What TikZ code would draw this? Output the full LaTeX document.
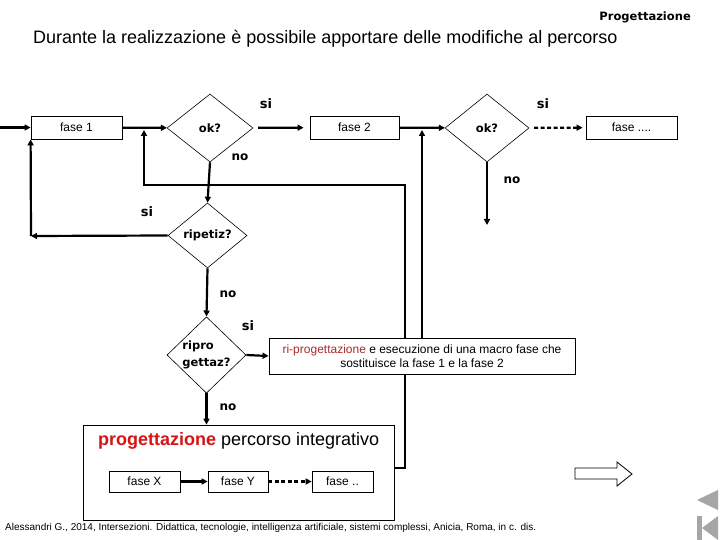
\documentclass[tikz,border=0pt]{standalone}
\usepackage{fontspec}
\setmainfont{Liberation Sans}
\newfontfamily\lblfont{DejaVu Sans}
\usetikzlibrary{shapes.geometric,arrows.meta}
\definecolor{redA}{RGB}{214,20,20}
\definecolor{redB}{RGB}{165,45,45}
\definecolor{navgray}{RGB}{166,166,166}
\begin{document}
\begin{tikzpicture}[x=1pt,y=-1pt,
  box/.style={draw,fill=white,line width=0.8pt,inner sep=0pt,font=\fontsize{12}{14}\selectfont},
  dia/.style={draw,diamond,line width=0.6pt,inner sep=0pt,font=\lblfont\bfseries\fontsize{11.5}{13}\selectfont},
  arr/.style={line width=2.2pt,-{Triangle[length=6pt,width=6pt]}},
  darr/.style={arr,dash pattern=on 4pt off 2.5pt},
  silbl/.style={font=\lblfont\bfseries\fontsize{13}{15}\selectfont},
  nolbl/.style={font=\lblfont\bfseries\fontsize{12}{14}\selectfont}]
\useasboundingbox[fill=white] (0,0) rectangle (720,540);

% headings
\node[anchor=east,inner sep=0pt,font=\lblfont\bfseries\fontsize{11.5}{13}\selectfont] (hdr) at (691,17) {Progettazione};
\node[anchor=west,inner sep=0pt,font=\fontsize{18}{21}\selectfont] (title) at (33,39) {Durante la realizzazione è possibile apportare delle modifiche al percorso};

% top row
\coordinate (cin) at (0,127.5);
\node[box,minimum width=91pt,minimum height=23pt] (fase1) at (76.5,127.5) {fase 1};
\node[dia,minimum width=86pt,minimum height=68pt] (ok1) at (210,128) {ok?};
\node[box,minimum width=89pt,minimum height=23pt] (fase2) at (354.5,127.5) {fase 2};
\node[dia,minimum width=84pt,minimum height=68pt] (ok2) at (487,128) {ok?};
\node[box,minimum width=91pt,minimum height=23pt] (fasen) at (631.5,127.5) {fase ....};
\coordinate (no2) at (487,225);

% middle
\node[dia,minimum width=79pt,minimum height=65pt] (ripetiz) at (207.5,235.5) {ripetiz?};
\node[dia,minimum width=79pt,minimum height=66pt,align=left,font=\lblfont\bfseries\fontsize{11.5}{17}\selectfont] (ripro) at (206.5,355) {ripro\\gettaz?};

% bottom big box
\node[box,minimum width=311pt,minimum height=95pt] (bigbox) at (238.5,472.5) {};
\node[anchor=west,inner sep=0pt,font=\fontsize{18}{21}\selectfont] (bigtitle) at (98,441) {\textcolor{redA}{\bfseries progettazione} percorso integrativo};
\node[box,minimum width=71pt,minimum height=21pt] (faseX) at (144.5,481.5) {fase X};
\node[box,minimum width=60pt,minimum height=21pt] (faseY) at (238,481.5) {fase Y};
\node[box,minimum width=61pt,minimum height=21pt] (fased) at (342.5,481.5) {fase ..};

% helper coordinates
\coordinate (c1) at (31,236);
\coordinate (c3) at (405,185);
\coordinate (c5) at (144,130);
\coordinate (c6) at (422,130);

% loop back from the integrative path (passes behind the ri-progettazione box)
\draw[arr] ([yshift=4.5pt]bigbox.east) -| (c3) -| (c5);

\node[box,minimum width=306pt,minimum height=36pt,align=center,font=\fontsize{12}{14.5}\selectfont] (riprog) at (422,356)
  {\textcolor{redB}{ri-progettazione} e esecuzione di una macro fase che\\sostituisce la fase 1 e la fase 2};

% connectors
\draw[arr] (cin) -- (fase1);
\draw[arr] (fase1) -- (ok1);
\draw[arr,shorten <=5pt,shorten >=6pt] (ok1) -- (fase2);
\draw[arr] (fase2) -- (ok2);
\draw[darr,shorten <=5pt,shorten >=3pt] (ok2) -- (fasen);
\draw[arr] (ok2.south) -- (no2);
\draw[arr] (ok1.south) -- (ripetiz.north);
\draw[arr] (ripetiz.west) -- (c1);
\draw[arr] (c1) -- (fase1.south west);
\draw[arr] (ripetiz.south) -- (ripro.north);
\draw[arr] (ripro.east) -- (riprog.west);
\draw[arr] (ripro.south) -- (ripro.south |- bigbox.north);
\draw[arr] (riprog.north) -- (c6);
\draw[arr] (faseX) -- (faseY);
\draw[darr] (faseY) -- (fased);

% labels
\node[silbl] (si1) at (266,104) {si};
\node[silbl] (si2) at (543,104) {si};
\node[silbl] (si3) at (147,212) {si};
\node[silbl] (si4) at (248,326) {si};
\node[nolbl] (no1l) at (240,157) {no};
\node[nolbl] (no2l) at (512,180) {no};
\node[nolbl] (no3l) at (228,294) {no};
\node[nolbl] (no4l) at (228,407) {no};

% footer
\node[anchor=west,inner sep=0pt,font=\fontsize{10}{12}\selectfont] (foot) at (5,528) {Alessandri G., 2014, Intersezioni. Didattica, tecnologie, intelligenza artificiale, sistemi complessi, Anicia, Roma, in c. dis.};

% hollow arrow
\draw[line width=0.8pt,fill=white] (575,468) -- (617,468) -- (617,462) -- (632,474) -- (617,486) -- (617,479) -- (575,479) -- cycle;

% navigation buttons
\fill[navgray] (697,500) -- (718,490) -- (718,510) -- cycle;
\fill[navgray] (697,516) rectangle (702,540);
\fill[navgray] (702,528) -- (718,516) -- (718,540) -- cycle;
\end{tikzpicture}
\end{document}
